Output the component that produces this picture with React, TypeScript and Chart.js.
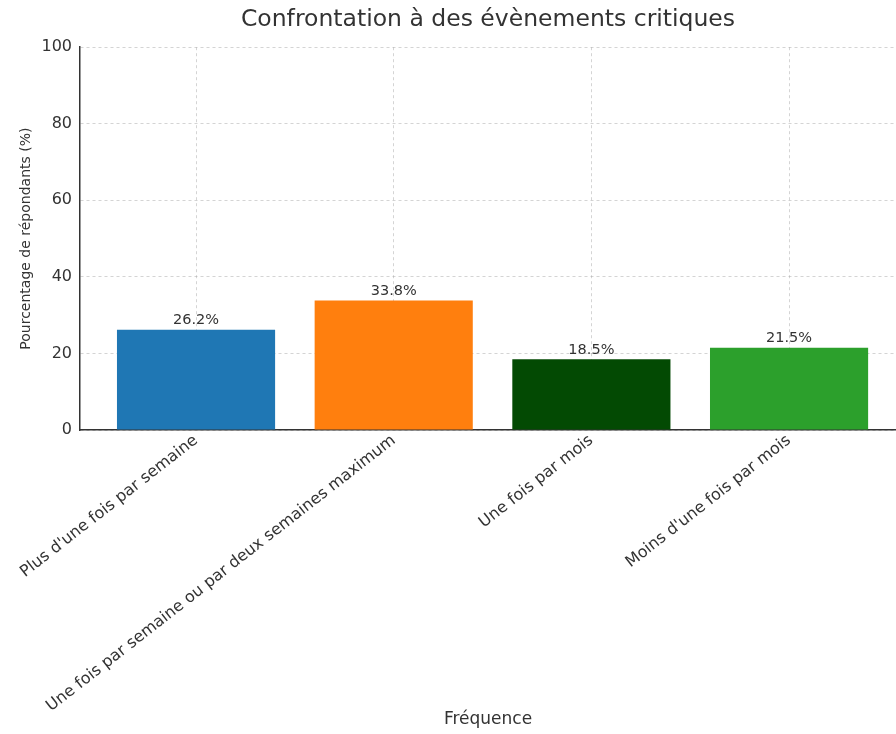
import React, { useEffect, useRef } from "react";
import { Chart, registerables } from "chart.js";

Chart.register(...registerables);

const TITLE = "Confrontation à des évènements critiques";
const X_TITLE = "Fréquence";
const Y_TITLE = "Pourcentage de répondants (%)";
const categories = [
  "Plus d'une fois par semaine",
  "Une fois par semaine ou par deux semaines maximum",
  "Une fois par mois",
  "Moins d'une fois par mois",
];
const values = [26.2, 33.8, 18.5, 21.5];
const barColors = ["#1f77b4", "#ff7f0e", "#034a03", "#2ca02c"];
const yTicks = [0, 20, 40, 60, 80, 100];

const FONT = "'DejaVu Sans', sans-serif";
const TEXT = "#333333";
const GRID = "rgba(170,170,170,0.5)";

const valueLabels = {
  id: "valueLabels",
  afterDatasetsDraw(chart: any) {
    const ctx = chart.ctx;
    const meta = chart.getDatasetMeta(0);
    ctx.save();
    ctx.font = `14.5px ${FONT}`;
    ctx.fillStyle = TEXT;
    ctx.textAlign = "center";
    ctx.textBaseline = "bottom";
    meta.data.forEach((el: any, i: number) => {
      ctx.fillText(values[i].toFixed(1) + "%", el.x, el.y - 2);
    });
    ctx.restore();
  },
};

export default function App() {
  const ref = useRef<HTMLCanvasElement | null>(null);
  useEffect(() => {
    document.body.style.margin = "0";
    const canvas = ref.current!;
    const chart = new Chart(canvas, {
      type: "bar",
      data: {
        datasets: [
          {
            data: categories.map((_, i) => ({ x: i, y: values[i] })),
            backgroundColor: barColors,
            borderWidth: 0,
            barPercentage: 1,
            categoryPercentage: 0.8,
          },
        ],
      },
      plugins: [valueLabels],
      options: {
        responsive: false,
        animation: false,
        layout: { padding: { left: 0, right: 0, top: 0, bottom: 0 } },
        plugins: {
          legend: { display: false },
          tooltip: { enabled: false },
          title: {
            display: true,
            fullSize: false,
            text: TITLE,
            color: TEXT,
            font: { family: FONT, size: 23.5, weight: "normal" },
            padding: { top: 6, bottom: 13 },
          },
        },
        scales: {
          x: {
            type: "linear",
            min: -0.587,
            max: 3.541,
            bounds: "data",
            offset: false,
            z: 1,
            afterBuildTicks: (axis: any) => {
              axis.ticks = categories.map((_, i) => ({ value: i }));
            },
            afterFit: (axis: any) => {
              axis.height = 304;
            },
            ticks: {
              autoSkip: false,
              minRotation: 38,
              maxRotation: 38,
              color: TEXT,
              padding: 1,
              font: { family: FONT, size: 16 },
              callback: (v: any) => categories[v] ?? "",
            },
            grid: {
              color: GRID,
              offset: false,
              drawTicks: false,
            },
            border: { display: true, color: "#333333", width: 1.5, dash: [3, 3] },
            title: {
              display: true,
              text: X_TITLE,
              color: TEXT,
              font: { family: FONT, size: 17 },
              padding: { top: 0, bottom: 4 },
            },
          },
          y: {
            type: "linear",
            min: 0,
            max: 100,
            z: 1,
            afterBuildTicks: (axis: any) => {
              axis.ticks = yTicks.map((v) => ({ value: v }));
            },
            afterFit: (axis: any) => {
              axis.width = 80;
            },
            ticks: {
              color: TEXT,
              padding: 8,
              font: { family: FONT, size: 16 },
            },
            grid: {
              color: GRID,
              drawTicks: false,
            },
            border: { display: true, color: "#333333", width: 1.5, dash: [3, 3] },
            title: {
              display: true,
              text: Y_TITLE,
              color: TEXT,
              font: { family: FONT, size: 14 },
              padding: { top: 18, bottom: 0 },
            },
          },
        },
      } as any,
    });
    return () => chart.destroy();
  }, []);
  return (
    <canvas
      ref={ref}
      width={896}
      height={734}
      style={{ display: "block", width: 896, height: 734 }}
    />
  );
}
